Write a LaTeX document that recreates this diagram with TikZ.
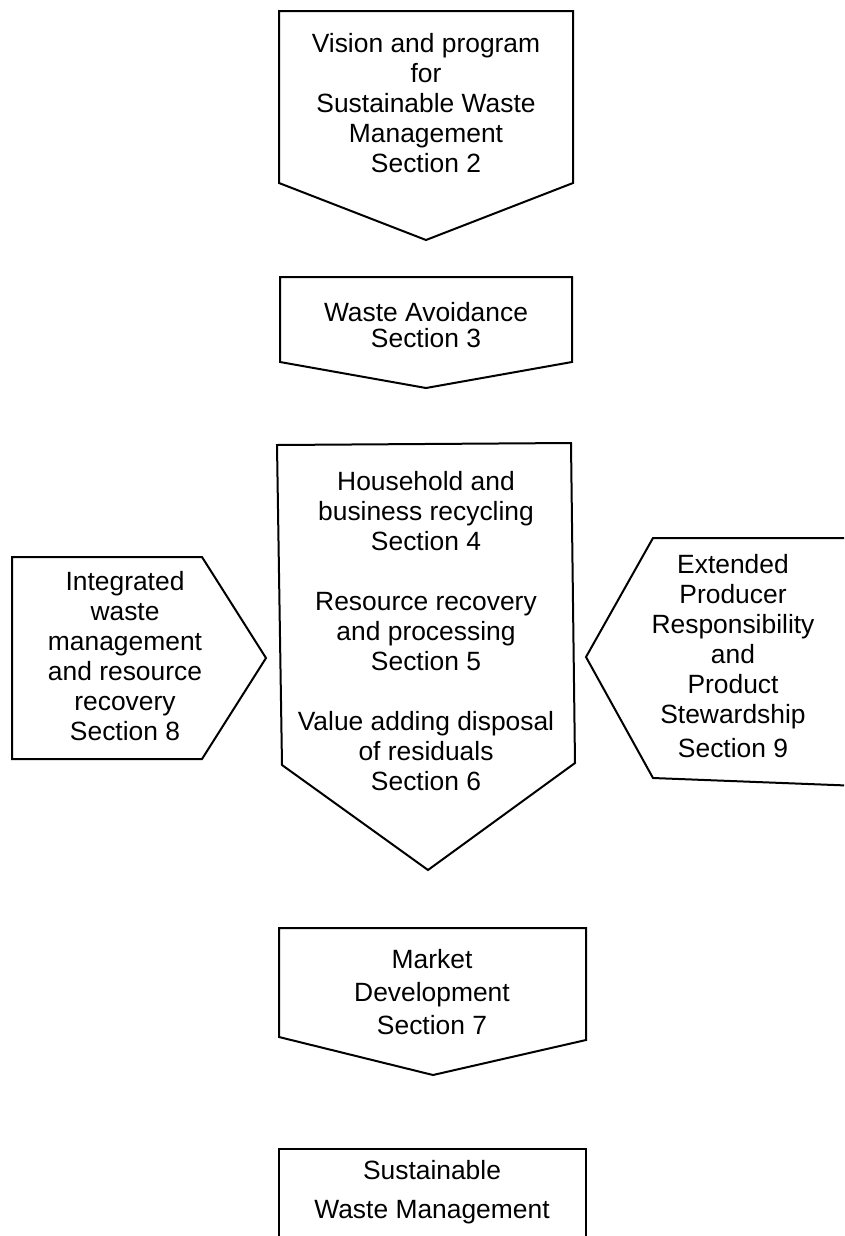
\documentclass[tikz,border=0pt]{standalone}
\usepackage{fontspec}
\setmainfont{Liberation Sans}
\tikzset{
	blk/.style = {draw=black, line width=1.5pt, line join=miter},
	txt/.style = {align=center, inner sep=0pt, font=\fontsize{19.8}{22.5}\selectfont},
}
\begin{document}
\begin{tikzpicture}[x=0.75pt, y=-0.75pt]
	\clip (0,0) rectangle (844,1236);
	
	% main column
	\draw[blk] (279,11) -- (573,11) -- (573,183) -- (426,240) -- (279,183) -- cycle;
	\node[txt] (vision) at (426,103) {Vision and program\\for\\Sustainable Waste\\Management\\Section 2};
	
	\draw[blk] (280,277) -- (572,277) -- (572,362) -- (426,388) -- (280,362) -- cycle;
	\node[txt] (avoid) at (426,325) {Waste Avoidance\\[-3pt]Section 3};
	
	\draw[blk] (277,445) -- (571,443) -- (575,763) -- (428,870) -- (282,765) -- cycle;
	\node[txt] (recycle) at (426,631) {Household and\\business recycling\\Section 4\\[22.5pt]Resource recovery\\and processing\\Section 5\\[22.5pt]Value adding disposal\\of residuals\\Section 6};
	
	\draw[blk] (279,928) -- (586,928) -- (586,1040) -- (433,1075) -- (279,1037) -- cycle;
	\node[txt] (market) at (432,992) {Market\\[2pt]Development\\[2pt]Section 7};
	
	\draw[blk] (279,1260) -- (279,1149) -- (586,1149) -- (586,1260);
	\node[txt] (sustain) at (432,1192) {Sustainable\\[7pt]Waste Management};
	
	% side boxes
	\draw[blk] (12,557) -- (202,557) -- (266,658) -- (202,759) -- (12,759) -- cycle;
	\node[txt] (integrated) at (125,656) {Integrated\\waste\\management\\and resource\\recovery\\Section 8};
	
	\draw[blk] (586,657) -- (653,538) -- (860,538) -- (860,786) -- (653,778) -- cycle;
	\node[txt] (producer) at (733,656) {Extended\\Producer\\Responsibility\\and\\Product\\Stewardship\\[3pt]Section 9};
\end{tikzpicture}
\end{document}
